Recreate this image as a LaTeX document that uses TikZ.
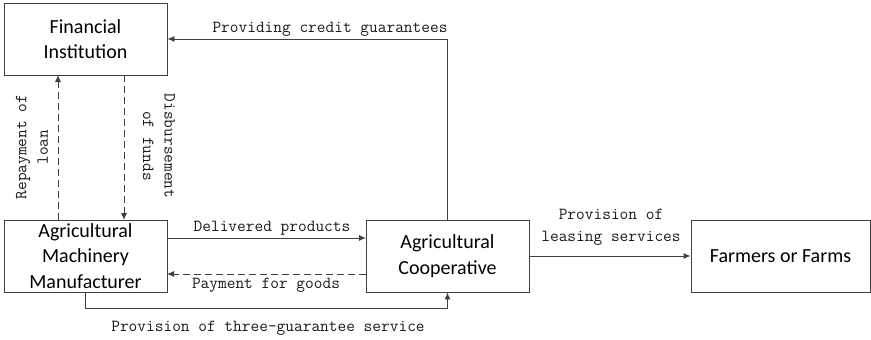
\documentclass[tikz,border=0pt]{standalone}
\usepackage{fontspec}
\setmainfont{Carlito}
\usetikzlibrary{arrows.meta}
\begin{document}
\begin{tikzpicture}[x=1pt,y=-1pt,
  blk/.style={draw=black!75,line width=0.9pt,minimum height=72pt,align=center,
    inner sep=0pt,font=\fontsize{20}{25.5}\selectfont},
  flow/.style={draw=black!75,line width=0.9pt,-{Latex[length=7pt,width=6pt]}},
  dsh/.style={flow,dash pattern=on 7pt off 4pt},
  lbl/.style={font=\ttfamily\fontsize{16.9}{21.5}\selectfont,text=black!90,
    inner sep=0pt,align=center}]
\useasboundingbox (0,0) rectangle (871,340);

% boxes
\node[blk,minimum width=163pt] (fi)   at (85.5,39)  {Financial\\Institution};
\node[blk,minimum width=163pt] (man)  at (85.5,256) {Agricultural\\Machinery\\Manufacturer};
\node[blk,minimum width=163pt] (coop) at (447.5,256) {Agricultural\\Cooperative};
\node[blk,minimum width=179pt] (farm) at (780.5,256) {Farmers or Farms};

% anchors for the vertical loan links and the horizontal trade links
\coordinate (repT) at (58,75);
\coordinate (repB) at (58,220);
\coordinate (disT) at (124,75);
\coordinate (disB) at (124,220);
\coordinate (delL) at (167,238);
\coordinate (delR) at (366,238);
\coordinate (payL) at (167,274);
\coordinate (payR) at (366,274);
\coordinate (low)  at (0,308);

% connectors
\draw[flow] (coop.north) |- (fi.east);
\draw[dsh] (repB) -- (repT);
\draw[dsh] (disT) -- (disB);
\draw[flow] (delL) -- (delR);
\draw[dsh] (payR) -- (payL);
\draw[flow] (man.south) -- (man.south |- low) -| (coop.south);
\draw[flow] (coop.east) -- (farm.west);

% labels
\node[lbl] (lcredit) at (330,29) {Providing credit guarantees};
\node[lbl,rotate=90] (lrep) at (32,147) {Repayment of\\loan};
\node[lbl,rotate=-90] (ldis) at (159,146) {Disbursement\\of funds};
\node[lbl] (ldel) at (272,228) {Delivered products};
\node[lbl] (lpay) at (266,285) {Payment for goods};
\node[lbl] (lthree) at (268,328) {Provision of three-guarantee service};
\node[lbl] (llease) at (611,227) {Provision of\\leasing services};
\end{tikzpicture}
\end{document}
